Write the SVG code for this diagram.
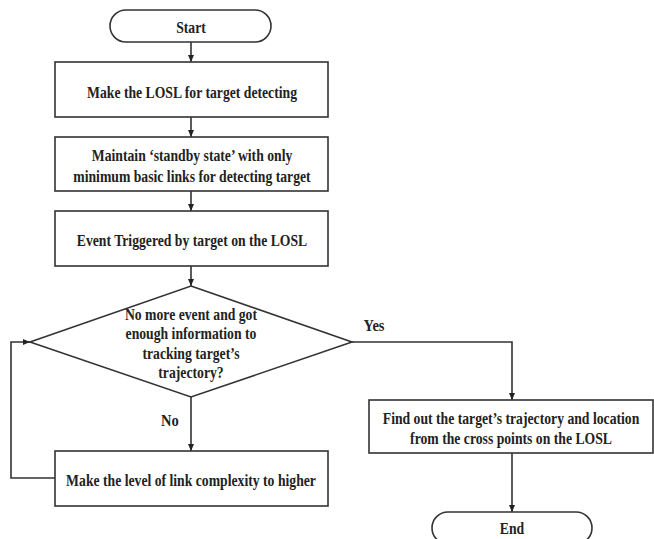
<svg xmlns="http://www.w3.org/2000/svg" width="654" height="539" viewBox="0 0 654 539">
<style>
.s{fill:#fff;stroke:#333;stroke-width:1.6}
.t{font-family:"Liberation Serif","Times New Roman",serif;font-weight:bold;font-size:16.5px;fill:#222;text-anchor:middle;dominant-baseline:central;transform-box:fill-box;transform-origin:center;transform:scaleX(0.83)}
.l{font-size:17.5px}
.c{fill:none;stroke:#333;stroke-width:1.6}
</style>
<defs>
<marker id="ah" markerWidth="8" markerHeight="8" refX="7" refY="4" orient="auto" markerUnits="userSpaceOnUse">
<path d="M0,1 L7,4 L0,7 Z" fill="#222"/>
</marker>
</defs>
<rect width="654" height="539" fill="#fff"/>
<g id="connectors">
<line class="c" x1="191" y1="42" x2="191" y2="62" marker-end="url(#ah)"/>
<line class="c" x1="191" y1="117" x2="191" y2="137" marker-end="url(#ah)"/>
<line class="c" x1="191" y1="191" x2="191" y2="211" marker-end="url(#ah)"/>
<line class="c" x1="191" y1="266" x2="191" y2="286" marker-end="url(#ah)"/>
<line class="c" x1="191" y1="397" x2="191" y2="451" marker-end="url(#ah)"/>
<polyline class="c" points="352,342 512,342 512,400" marker-end="url(#ah)"/>
<line class="c" x1="512" y1="453" x2="512" y2="512" marker-end="url(#ah)"/>
<polyline class="c" points="55,478 11,478 11,342 30,342" marker-end="url(#ah)"/>
<text class="t l" x="374" y="325">Yes</text>
<text class="t l" x="170" y="420">No</text>
</g>
<g id="start">
<rect class="s" x="110" y="10" width="161" height="32" rx="16"/>
<text class="t" x="191" y="27">Start</text>
</g>
<g id="make-losl">
<rect class="s" x="55" y="62" width="273" height="55"/>
<text class="t" x="192" y="92">Make the LOSL for target detecting</text>
</g>
<g id="standby">
<rect class="s" x="55" y="137" width="273" height="54"/>
<text class="t" x="192" y="155">Maintain ‘standby state’ with only</text>
<text class="t" x="192" y="176">minimum basic links for detecting target</text>
</g>
<g id="event">
<rect class="s" x="55" y="211" width="273" height="55"/>
<text class="t" x="192" y="240">Event Triggered by target on the LOSL</text>
</g>
<g id="decision">
<polygon class="s" points="191,286 352,342 191,397 30,342"/>
<text class="t" x="191" y="314">No more event and got</text>
<text class="t" x="191" y="333">enough information to</text>
<text class="t" x="191" y="353">tracking target’s</text>
<text class="t" x="191" y="372">trajectory?</text>
</g>
<g id="higher">
<rect class="s" x="55" y="451" width="273" height="55"/>
<text class="t" x="191" y="480">Make the level of link complexity to higher</text>
</g>
<g id="find">
<rect class="s" x="369" y="400" width="284" height="53"/>
<text class="t" x="511" y="418">Find out the target’s trajectory and location</text>
<text class="t" x="511" y="438">from the cross points on the LOSL</text>
</g>
<g id="end">
<rect class="s" x="432" y="512" width="160" height="32" rx="16"/>
<text class="t" x="512" y="528">End</text>
</g>
</svg>
